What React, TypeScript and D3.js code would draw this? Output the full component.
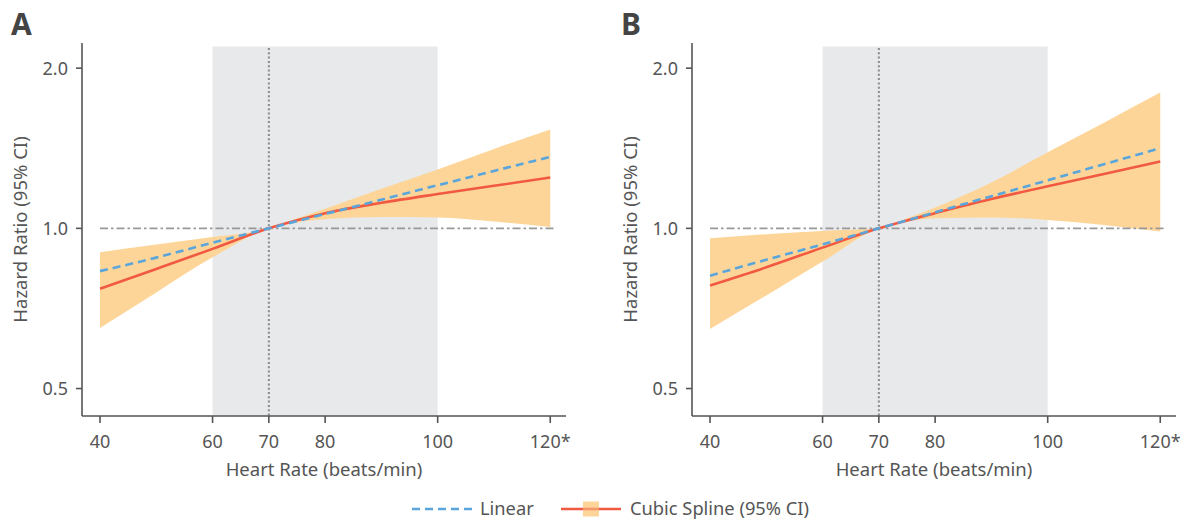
import React from 'react';
import * as d3 from 'd3';

// heart rate grid (beats/min)
const heartRates = [40, 50, 60, 70, 75, 80, 90, 100, 110, 120];

// panel A
const linearA = [0.831, 0.881, 0.94, 1.0, 1.032, 1.064, 1.132, 1.205, 1.282, 1.362];
const splineA = [0.77, 0.839, 0.915, 1.0, 1.036, 1.068, 1.117, 1.16, 1.202, 1.246];
const lowerA = [0.65, 0.758, 0.882, 1.0, 1.026, 1.04, 1.05, 1.048, 1.03, 1.006];
const upperA = [0.902, 0.933, 0.963, 1.0, 1.044, 1.089, 1.187, 1.29, 1.41, 1.534];

// panel B
const linearB = [0.815, 0.873, 0.933, 1.0, 1.035, 1.072, 1.149, 1.231, 1.32, 1.414];
const splineB = [0.781, 0.845, 0.92, 1.0, 1.035, 1.068, 1.135, 1.2, 1.265, 1.335];
const lowerB = [0.647, 0.748, 0.866, 1.0, 1.03, 1.045, 1.048, 1.037, 1.015, 0.986];
const upperB = [0.958, 0.975, 0.989, 1.0, 1.045, 1.095, 1.22, 1.39, 1.58, 1.8];

const xTicks = [40, 60, 70, 80, 100, 120];
const xTickLabels = ['40', '60', '70', '80', '100', '120*'];
const yTicks = [0.5, 1.0, 2.0];

const panels = [
  { letter: 'A', offset: 0, linear: linearA, spline: splineA, lower: lowerA, upper: upperA },
  { letter: 'B', offset: 610, linear: linearB, spline: splineB, lower: lowerB, upper: upperB },
];

const FONT = '"Noto Sans", "Open Sans", sans-serif';
const TEXT = '#555';
const BLUE = '#5aa5dc';
const RED = '#f15a40';
const BAND = '#fdd598';

const Panel = ({ p }) => {
  const x = d3.scaleLinear().domain([36.8, 122.8]).range([82, 566]);
  const y = d3.scaleLog().domain([0.444, 2.23]).range([416, 43]);
  const [x0, x1] = x.range();
  const [yb, yt] = y.range();

  const area = d3
    .area<number>()
    .x((d, i) => x(heartRates[i]))
    .y0((d, i) => y(p.lower[i]))
    .y1((d, i) => y(p.upper[i]))
    .curve(d3.curveMonotoneX);
  const line = (vals: number[]) =>
    d3
      .line<number>()
      .x((d, i) => x(heartRates[i]))
      .y((d) => y(d))
      .curve(d3.curveMonotoneX)(vals);

  return (
    <g transform={`translate(${p.offset},0)`}>
      <text x={11} y={35} fontSize={30} fontWeight="bold" fill="#444" fontFamily={FONT}>
        {p.letter}
      </text>
      {/* normal heart rate band */}
      <rect x={x(60)} y={46.5} width={x(100) - x(60)} height={yb - 46.5} fill="#e8e9eb" />
      <path d={area(heartRates) || ''} fill={BAND} />
      <line x1={x(70)} x2={x(70)} y1={48} y2={yb} stroke="#8a8a8a" strokeWidth={2} strokeDasharray="2 2.3" />
      <line x1={x(40)} x2={x(121)} y1={y(1)} y2={y(1)} stroke="#999" strokeWidth={1.6} strokeDasharray="8 3 2.5 3" />
      <path d={line(p.spline) || ''} fill="none" stroke={RED} strokeWidth={2.6} />
      <path d={line(p.linear) || ''} fill="none" stroke={BLUE} strokeWidth={2.6} strokeDasharray="8 5" />

      {/* axes */}
      <line x1={x0} x2={x0} y1={yt} y2={yb} stroke="#555" strokeWidth={1.6} />
      <line x1={x0} x2={x1} y1={yb} y2={yb} stroke="#555" strokeWidth={1.6} />
      {yTicks.map((t) => (
        <g key={t}>
          <line x1={x0 - 6} x2={x0} y1={y(t)} y2={y(t)} stroke="#555" strokeWidth={1.6} />
          <text x={x0 - 14} y={y(t)} dy="0.36em" textAnchor="end" fontSize={18} fill={TEXT} fontFamily={FONT}>
            {d3.format('.1f')(t)}
          </text>
        </g>
      ))}
      {xTicks.map((t, i) => (
        <g key={t}>
          <line x1={x(t)} x2={x(t)} y1={yb} y2={yb + 7} stroke="#555" strokeWidth={1.6} />
          <text x={x(t)} y={448} textAnchor="middle" fontSize={18} fill={TEXT} fontFamily={FONT}>
            {xTickLabels[i]}
          </text>
        </g>
      ))}
      <text x={(x0 + x1) / 2} y={476} textAnchor="middle" fontSize={18.5} fill={TEXT} fontFamily={FONT}>
        Heart Rate (beats/min)
      </text>
      <text
        transform={`translate(27,${(yt + yb) / 2}) rotate(-90)`}
        textAnchor="middle"
        fontSize={18.5}
        fill={TEXT}
        fontFamily={FONT}
      >
        Hazard Ratio (95% CI)
      </text>
    </g>
  );
};

export default function App() {
  return (
    <svg width={1189} height={520} style={{ position: 'absolute', left: 0, top: 0 }}>
      <rect width={1189} height={520} fill="#fff" />
      {panels.map((p) => (
        <Panel key={p.letter} p={p} />
      ))}
      {/* legend */}
      <g fontFamily={FONT} fontSize={18.3} fill={TEXT}>
        <line x1={412} x2={472} y1={509} y2={509} stroke={BLUE} strokeWidth={2.6} strokeDasharray="8 5" />
        <text x={480} y={509} dy="0.35em">Linear</text>
        <line x1={561} x2={621} y1={509} y2={509} stroke={RED} strokeWidth={2.6} />
        <rect x={583} y={501.5} width={16} height={15} fill={BAND} />
        <line x1={583} x2={599} y1={509} y2={509} stroke={RED} strokeWidth={2.6} opacity={0.5} />
        <text x={630} y={509} dy="0.35em">Cubic Spline (95% CI)</text>
      </g>
    </svg>
  );
}
